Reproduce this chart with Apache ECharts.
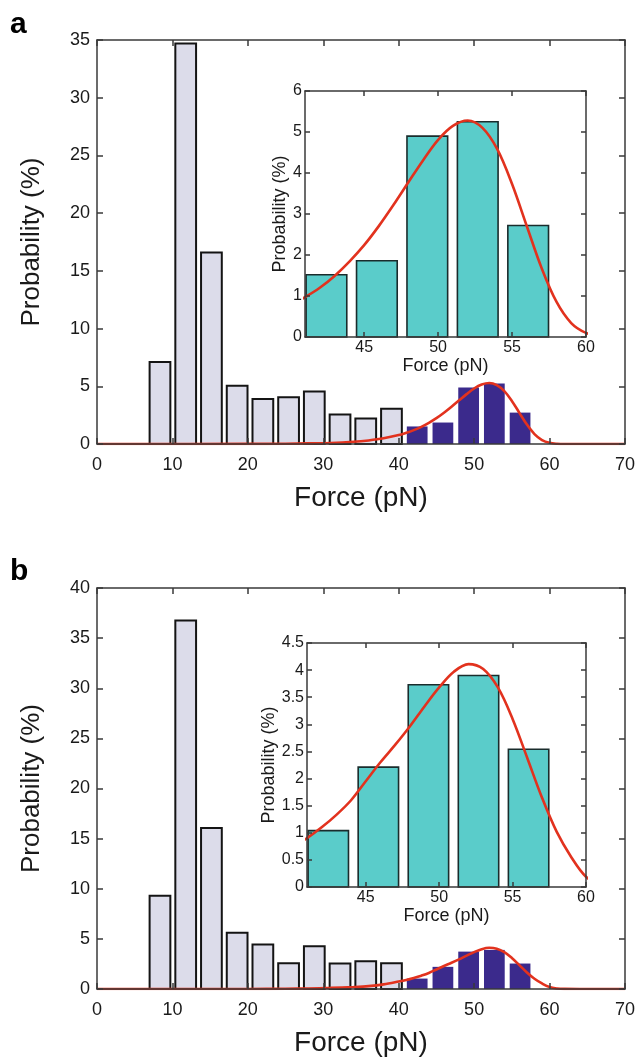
<!DOCTYPE html>
<html>
<head>
<meta charset="utf-8">
<script src="https://cdn.jsdelivr.net/npm/echarts@6/dist/echarts.min.js"></script>
<style>
  html, body { margin: 0; padding: 0; background: #fff; }
  #chart { width: 638px; height: 1058px; }
</style>
</head>
<body>
<div id="chart"></div>
<script>
// Rupture-force histograms (bin centres in pN, probabilities in %)
const forceBins = [8.35, 11.76, 15.17, 18.58, 21.99, 25.40, 28.81, 32.22, 35.63, 39.04, 42.45, 45.86, 49.27, 52.68, 56.09];
const probA = [7.1, 34.7, 16.6, 5.05, 3.9, 4.05, 4.55, 2.55, 2.2, 3.05, 1.52, 1.86, 4.9, 5.25, 2.72];
const probB = [9.3, 36.75, 16.05, 5.6, 4.43, 2.56, 4.27, 2.55, 2.76, 2.58, 1.04, 2.21, 3.73, 3.9, 2.54];
const peakStart = 10; // first bin of the high-force population
const binWidth = 2.75;

// Fitted distribution of the high-force population
const fitForce = [0, 20, 25, 28, 31, 34, 36, 38, 40, 41, 42, 43, 44, 45, 46, 47, 48, 49, 50, 51, 52, 53, 54, 55, 56, 57, 58, 59, 60, 61, 62, 64, 70];
const fitProbA = [0, 0.01, 0.02, 0.05, 0.09, 0.19, 0.31, 0.49, 0.77, 0.97, 1.2, 1.49, 1.84, 2.24, 2.71, 3.23, 3.78, 4.32, 4.81, 5.15, 5.28, 5.1, 4.58, 3.73, 2.7, 1.68, 0.86, 0.34, 0.1, 0.02, 0, 0, 0];
const fitProbB = [0, 0.005, 0.03, 0.055, 0.11, 0.2, 0.29, 0.46, 0.74, 0.9, 1.1, 1.33, 1.6, 1.95, 2.3, 2.62, 2.96, 3.33, 3.68, 3.97, 4.11, 4.02, 3.68, 3.1, 2.38, 1.65, 1.02, 0.55, 0.19, 0.05, 0.01, 0, 0];

// Axis ranges / tick labels
const mainForceRange = [0, 70];
const insetForceRange = [41, 60];
const insetForceTicks = [45, 50, 55, 60];
const mainProbMax = [35, 40];
const insetProbMax = [6, 4.5];
const insetProbStep = [1, 0.5];

const FONT = "'Liberation Sans', Arial, Helvetica, sans-serif";
const AXIS_COLOR = '#3a3a3a';
const TEXT_COLOR = '#1a1a1a';
const LIGHT_BAR = '#dcdcea';
const DARK_BAR = '#3b2a8c';
const TEAL_BAR = '#5accca';
const FIT_RED = '#e2321e';

const MAIN_LEFT = 97, MAIN_WIDTH = 529;
const panels = [
  { top: 40, height: 404, inset: { left: 305, top: 91, width: 281, height: 246 }, insetNameGap: [11, 15] },
  { top: 588, height: 406, inset: { left: 307, top: 643, width: 279, height: 244 }, insetNameGap: [14, 14] }
];

const chart = echarts.init(document.getElementById('chart'), null, { renderer: 'canvas' });

function barRenderer(fill, stroke, lineWidth) {
  return function (params, api) {
    const x = api.value(0), y = api.value(1);
    const p0 = api.coord([x - binWidth / 2, y]);
    const p1 = api.coord([x + binWidth / 2, 0]);
    const cs = params.coordSys;
    const shape = echarts.graphic.clipRectByRect(
      { x: p0[0], y: p0[1], width: p1[0] - p0[0], height: p1[1] - p0[1] },
      { x: cs.x, y: cs.y, width: cs.width, height: cs.height }
    );
    if (!shape) return null;
    return {
      type: 'rect',
      shape: shape,
      style: { fill: fill, stroke: stroke, lineWidth: lineWidth }
    };
  };
}

function pairs(xs, ys) { return xs.map((x, i) => [x, ys[i]]); }

const grid = [], xAxis = [], yAxis = [], series = [];

function lineStyle() { return { color: AXIS_COLOR, width: 1.5 }; }

function addAxes(gi, opts) {
  const labelStyle = { color: TEXT_COLOR, fontFamily: FONT, fontSize: opts.labelSize };
  const xBase = {
    type: 'value', gridIndex: gi, min: opts.xRange[0], max: opts.xRange[1],
    splitLine: { show: false }, z: 5,
    axisLine: { show: true, onZero: false, lineStyle: lineStyle() }
  };
  const xTick = { inside: true, length: opts.tickLen, lineStyle: lineStyle() };
  if (opts.xCustom) {
    xTick.customValues = opts.xCustom;
  } else {
    xBase.interval = opts.xInterval;
  }
  const xLabel = Object.assign({ margin: opts.xLabelMargin }, labelStyle);
  if (opts.xCustom) xLabel.customValues = opts.xCustom;
  xAxis.push(Object.assign({}, xBase, {
    position: 'bottom', axisTick: xTick, axisLabel: xLabel,
    name: 'Force (pN)', nameLocation: 'middle', nameGap: opts.xNameGap,
    nameTextStyle: { color: TEXT_COLOR, fontFamily: FONT, fontSize: opts.xNameSize }
  }));
  xAxis.push(Object.assign({}, xBase, {
    position: 'top', axisTick: xTick, axisLabel: { show: false }
  }));
  const yBase = {
    type: 'value', gridIndex: gi, min: 0, max: opts.yMax, interval: opts.yInterval,
    splitLine: { show: false }, z: 5,
    axisLine: { show: true, onZero: false, lineStyle: lineStyle() },
    axisTick: { inside: true, length: opts.tickLen, lineStyle: lineStyle() }
  };
  yAxis.push(Object.assign({}, yBase, {
    position: 'left',
    axisLabel: Object.assign({ margin: opts.yLabelMargin }, labelStyle),
    name: 'Probability (%)', nameLocation: 'middle', nameGap: opts.yNameGap,
    nameTextStyle: { color: TEXT_COLOR, fontFamily: FONT, fontSize: opts.yNameSize }
  }));
  yAxis.push(Object.assign({}, yBase, { position: 'right', axisLabel: { show: false } }));
  return { x: xAxis.length - 2, y: yAxis.length - 2 };
}

panels.forEach((p, k) => {
  const probs = k === 0 ? probA : probB;
  const fit = k === 0 ? fitProbA : fitProbB;
  const lowBins = pairs(forceBins.slice(0, peakStart), probs.slice(0, peakStart));
  const highBins = pairs(forceBins.slice(peakStart), probs.slice(peakStart));
  const fitLine = pairs(fitForce, fit);

  // main histogram
  grid.push({ left: MAIN_LEFT, top: p.top, width: MAIN_WIDTH, height: p.height });
  const m = addAxes(grid.length - 1, {
    xRange: mainForceRange, xInterval: 10, yMax: mainProbMax[k], yInterval: 5,
    labelSize: 18, xNameSize: 28, yNameSize: 26, tickLen: 6,
    xLabelMargin: 12, yLabelMargin: 7, xNameGap: 40, yNameGap: 52
  });
  series.push({ type: 'custom', xAxisIndex: m.x, yAxisIndex: m.y, data: lowBins,
    encode: { x: 0, y: 1 }, renderItem: barRenderer(LIGHT_BAR, '#141414', 2), z: 2, silent: true });
  series.push({ type: 'custom', xAxisIndex: m.x, yAxisIndex: m.y, data: highBins,
    encode: { x: 0, y: 1 }, renderItem: barRenderer(DARK_BAR, null, 0), z: 2, silent: true });
  series.push({ type: 'line', xAxisIndex: m.x, yAxisIndex: m.y, data: fitLine, smooth: 0.35,
    showSymbol: false, lineStyle: { color: FIT_RED, width: 2.6 }, z: 3, silent: true });

  // inset: high-force population
  const q = p.inset;
  grid.push({ left: q.left, top: q.top, width: q.width, height: q.height });
  const n = addAxes(grid.length - 1, {
    xRange: insetForceRange, xCustom: insetForceTicks, yMax: insetProbMax[k], yInterval: insetProbStep[k],
    labelSize: 16, xNameSize: 18, yNameSize: 18, tickLen: 5,
    xLabelMargin: 3, yLabelMargin: 3, xNameGap: p.insetNameGap[0], yNameGap: p.insetNameGap[1]
  });
  series.push({ type: 'custom', xAxisIndex: n.x, yAxisIndex: n.y, data: highBins,
    encode: { x: 0, y: 1 }, renderItem: barRenderer(TEAL_BAR, '#1a2c2c', 1.6), z: 2, silent: true });
  series.push({ type: 'line', xAxisIndex: n.x, yAxisIndex: n.y, data: fitLine, smooth: 0.35,
    showSymbol: false, lineStyle: { color: FIT_RED, width: 2.6 }, z: 3, silent: true });
});

chart.setOption({
  animation: false,
  backgroundColor: '#fff',
  grid: grid,
  xAxis: xAxis,
  yAxis: yAxis,
  series: series,
  graphic: [
    { type: 'text', x: 10, y: 25, style: { text: 'a', font: 'bold 30px ' + FONT, fill: '#000', verticalAlign: 'middle' } },
    { type: 'text', x: 10, y: 572, style: { text: 'b', font: 'bold 30px ' + FONT, fill: '#000', verticalAlign: 'middle' } }
  ]
});
</script>
</body>
</html>
